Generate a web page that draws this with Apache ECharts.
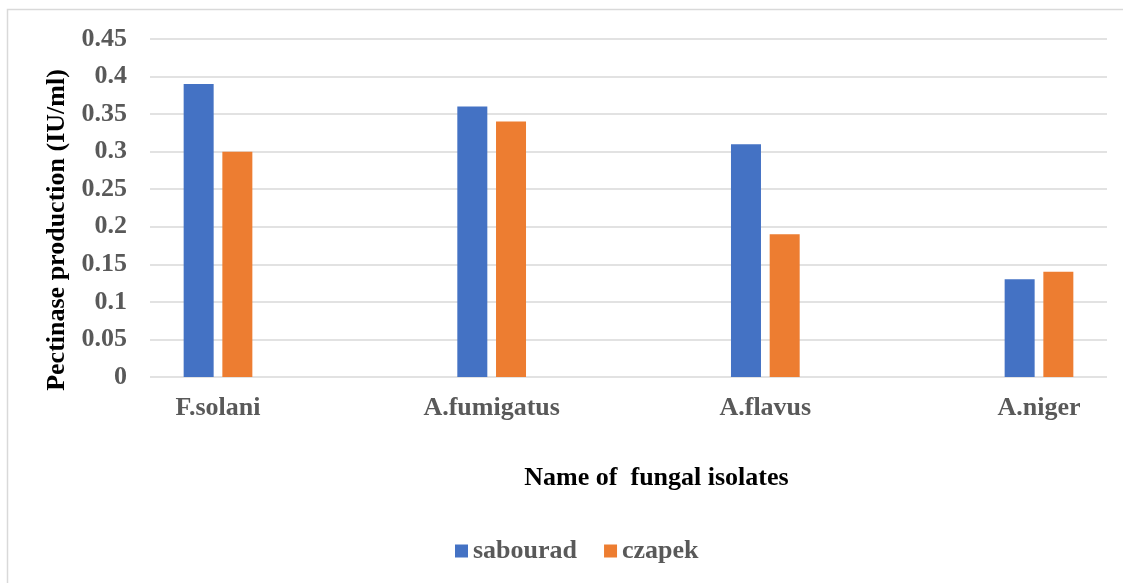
<!DOCTYPE html>
<html>
<head>
<meta charset="utf-8">
<title>Pectinase production by fungal isolates</title>
<script src="https://cdn.jsdelivr.net/npm/echarts@6/dist/echarts.min.js"></script>
<style>
  html, body { margin: 0; padding: 0; background: #ffffff; }
  #chart { width: 1123px; height: 583px; }
</style>
</head>
<body>
<div id="chart"></div>
<script>
// Fungal isolates along the horizontal axis
const isolates = ['F.solani', 'A.fumigatus', 'A.flavus', 'A.niger'];
// Pectinase production (IU/ml) on each growth medium
const sabourad = [0.39, 0.36, 0.31, 0.13];
const czapek = [0.30, 0.34, 0.19, 0.14];
// Value-axis ticks
const yTicks = [0, 0.05, 0.1, 0.15, 0.2, 0.25, 0.3, 0.35, 0.4, 0.45];

const FONT = 'Liberation Serif, Times New Roman, serif';
const GREY = '#595959';

// Isolates are placed at integer positions on a numeric axis, with a little
// padding on either side of the outer groups.
const xPositions = isolates.map((_, i) => i);
const pad = 0.2485;

const chart = echarts.init(document.getElementById('chart'), null, { renderer: 'canvas' });

chart.setOption({
  backgroundColor: '#ffffff',
  animation: false,
  graphic: [{
    type: 'rect',
    shape: { x: 7.5, y: 9.5, width: 1300, height: 800 },
    style: { fill: 'none', stroke: '#d9d9d9', lineWidth: 1.5 },
    silent: true
  }],
  grid: { left: 150, right: 16, top: 39, bottom: 206, containLabel: false },
  legend: {
    data: ['sabourad', 'czapek'],
    left: 450,
    top: 533,
    icon: 'rect',
    itemWidth: 13,
    itemHeight: 13,
    itemGap: 27,
    textStyle: { fontFamily: FONT, fontWeight: 'bold', fontSize: 26, color: GREY }
  },
  xAxis: {
    type: 'value',
    min: -pad,
    max: isolates.length - 1 + pad,
    name: 'Name of  fungal isolates',
    nameLocation: 'middle',
    nameGap: 88,
    nameTextStyle: { fontFamily: FONT, fontWeight: 'bold', fontSize: 26, color: '#000000', padding: [0, 0, 0, 56] },
    splitLine: { show: false },
    axisTick: { show: false },
    axisLine: { show: false },
    axisLabel: {
      customValues: xPositions,
      formatter: v => isolates[Math.round(v)],
      margin: 18,
      fontFamily: FONT, fontWeight: 'bold', fontSize: 26, color: GREY
    }
  },
  yAxis: {
    type: 'value',
    min: 0,
    max: yTicks[yTicks.length - 1],
    interval: yTicks[1] - yTicks[0],
    name: 'Pectinase production (IU/ml)',
    nameLocation: 'middle',
    nameGap: 80,
    nameTextStyle: { fontFamily: FONT, fontWeight: 'bold', fontSize: 26, color: '#000000', padding: [0, 44, 0, 0] },
    axisLine: { show: false },
    axisTick: { show: false },
    axisLabel: {
      margin: 23,
      fontFamily: FONT, fontWeight: 'bold', fontSize: 26, color: GREY,
      formatter: v => String(+v.toFixed(2))
    },
    splitLine: { lineStyle: { color: '#d9d9d9', width: 1.5 } }
  },
  series: [
    {
      name: 'sabourad',
      type: 'bar',
      data: xPositions.map((x, i) => [x, sabourad[i]]),
      barWidth: 30,
      barGap: '29%',
      itemStyle: { color: '#4472c4' }
    },
    {
      name: 'czapek',
      type: 'bar',
      data: xPositions.map((x, i) => [x, czapek[i]]),
      barWidth: 30,
      barGap: '29%',
      itemStyle: { color: '#ed7d31' }
    }
  ]
});
</script>
</body>
</html>
